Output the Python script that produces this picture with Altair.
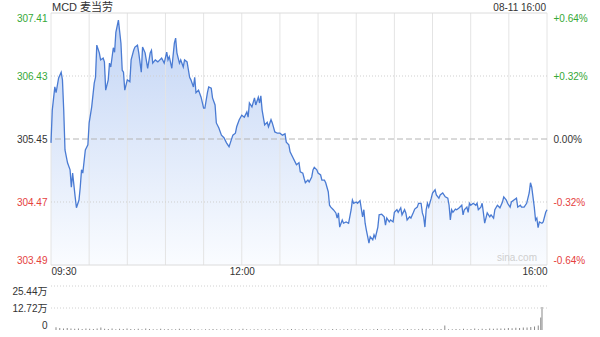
import altair as alt
import pandas as pd

# ---------------- data ----------------
prev_close = 305.45
minutes = [0, 1, 3, 4, 6, 8, 9, 10, 11, 13,
           15, 16, 17, 19, 20, 22, 23, 24, 25, 27,
           29, 30, 32, 34, 35, 36, 38, 39, 41, 42,
           43, 45, 46, 47, 49, 50, 51, 53, 55, 56,
           57, 58, 60, 62, 63, 65, 66, 68, 69, 71,
           72, 74, 76, 78, 79, 80, 82, 84, 87, 89,
           91, 92, 93, 95, 97, 98, 99, 101, 102, 104,
           105, 107, 109, 110, 112, 113, 114, 116, 118, 120,
           121, 123, 124, 126, 127, 129, 130, 132, 134, 136,
           138, 140, 141, 143, 145, 146, 148, 150, 152, 154,
           155, 156, 158, 160, 161, 163, 164, 165, 166, 168,
           170, 171, 173, 174, 176, 178, 180, 182, 184, 185,
           187, 188, 190, 192, 193, 195, 196, 198, 199, 200,
           202, 203, 205, 206, 207, 209, 210, 212, 213, 215,
           216, 218, 219, 220, 222, 224, 225, 226, 227, 229,
           230, 232, 234, 236, 237, 238, 240, 241, 243, 245,
           246, 247, 248, 249, 250, 251, 253, 254, 255, 257,
           258, 260, 262, 263, 264, 266, 267, 269, 270, 272,
           273, 275, 276, 278, 279, 280, 282, 283, 285, 286,
           288, 289, 291, 292, 293, 294, 295, 296, 297, 299,
           300, 302, 303, 305, 306, 308, 310, 312, 313, 314,
           315, 316, 318, 319, 321, 323, 324, 325, 327, 328,
           329, 330, 332, 334, 335, 336, 338, 339, 340, 341,
           343, 345, 346, 348, 349, 351, 353, 355, 356, 358,
           359, 361, 362, 364, 366, 367, 369, 370, 372, 374,
           376, 377, 378, 380, 381, 382, 383, 384, 386, 387,
           389, 390]
prices = [305.39, 305.90, 306.26, 306.17, 306.40, 306.49, 306.37, 305.90, 305.28, 305.08,
          304.97, 304.70, 304.92, 304.55, 304.38, 304.50, 304.70, 304.97, 304.92, 305.28,
          305.36, 305.70, 305.95, 306.32, 306.41, 306.91, 306.79, 306.68, 306.71, 306.65,
          306.21, 306.37, 306.63, 306.57, 306.87, 306.80, 307.11, 307.30, 306.94, 306.52,
          306.49, 306.21, 306.37, 306.34, 306.68, 306.83, 306.88, 306.91, 306.79, 306.49,
          306.88, 306.79, 306.55, 306.79, 306.83, 306.63, 306.68, 306.65, 306.71, 306.63,
          306.80, 306.68, 306.73, 306.55, 306.94, 307.02, 306.79, 306.63, 306.68, 306.57,
          306.68, 306.65, 306.41, 306.37, 306.26, 306.41, 306.17, 306.21, 306.10, 305.93,
          305.93, 306.17, 306.26, 306.24, 306.09, 305.98, 305.70, 305.62, 305.51, 305.47,
          305.39, 305.33, 305.39, 305.51, 305.54, 305.64, 305.75, 305.82, 305.79, 305.87,
          305.79, 306.01, 305.95, 306.09, 305.98, 306.10, 306.01, 306.12, 305.90, 305.67,
          305.71, 305.64, 305.75, 305.70, 305.56, 305.54, 305.54, 305.51, 305.53, 305.40,
          305.36, 305.25, 305.17, 305.09, 305.05, 305.08, 304.94, 304.92, 304.84, 304.77,
          304.81, 304.78, 304.86, 304.97, 305.01, 304.97, 304.92, 304.89, 304.81, 304.81,
          304.77, 304.63, 304.42, 304.39, 304.35, 304.30, 304.22, 304.30, 304.08, 304.19,
          304.14, 304.16, 304.14, 304.35, 304.50, 304.45, 304.47, 304.45, 304.49, 304.24,
          304.35, 304.14, 304.03, 303.93, 303.83, 303.93, 303.88, 303.96, 303.91, 304.08,
          304.27, 304.28, 304.24, 304.11, 304.22, 304.16, 304.19, 304.16, 304.31, 304.35,
          304.31, 304.38, 304.27, 304.35, 304.30, 304.19, 304.24, 304.22, 304.31, 304.36,
          304.39, 304.45, 304.45, 304.30, 304.24, 304.08, 304.35, 304.45, 304.39, 304.53,
          304.61, 304.66, 304.58, 304.53, 304.58, 304.61, 304.55, 304.53, 304.42, 304.19,
          304.35, 304.31, 304.36, 304.35, 304.38, 304.42, 304.27, 304.35, 304.39, 304.31,
          304.45, 304.42, 304.45, 304.42, 304.45, 304.35, 304.39, 304.45, 304.30, 304.14,
          304.30, 304.24, 304.27, 304.22, 304.35, 304.42, 304.38, 304.47, 304.55, 304.50,
          304.45, 304.39, 304.47, 304.50, 304.53, 304.39, 304.42, 304.39, 304.39, 304.45,
          304.61, 304.77, 304.70, 304.39, 304.19, 304.22, 304.07, 304.16, 304.14, 304.16,
          304.31, 304.35]

price_ticks = [303.49, 304.47, 305.45, 306.43, 307.41]
price_floor = 303.49
pct_ticks = [0.64, 0.32, 0.0, -0.32, -0.64]
pct_kinds = ["edge", "dot", "mid", "dot", "edge"]
time_ticks = [0, 150, 390]
half_hours = list(range(0, 391, 30))

vol_minutes = list(range(0, 388, 3)) + [389, 390]
volumes = [16000, 12000, 9000, 11000, 8000, 7000, 9000, 6000, 8000, 7000,
           6000, 9000, 15000, 7000, 6000, 8000, 5000, 7000, 6000, 9000,
           6000, 5000, 7000, 5000, 8000, 6000, 5000, 4000, 7000, 5000,
           6000, 4000, 5000, 7000, 4000, 5000, 6000, 4000, 5000, 3000,
           5000, 4000, 6000, 4000, 3000, 5000, 4000, 6000, 3000, 4000,
           7000, 4000, 3000, 5000, 4000, 3000, 4000, 5000, 3000, 4000,
           5000, 3000, 4000, 6000, 4000, 3000, 5000, 4000, 3000, 4000,
           3000, 5000, 4000, 3000, 6000, 4000, 3000, 4000, 5000, 3000,
           4000, 3000, 5000, 4000, 3000, 4000, 6000, 3000, 4000, 5000,
           4000, 3000, 5000, 4000, 6000, 5000, 4000, 5000, 7000, 5000,
           6000, 5000, 4000, 6000, 26000, 5000, 4000, 6000, 5000, 7000,
           5000, 6000, 8000, 5000, 7000, 6000, 8000, 7000, 9000, 8000,
           9000, 11000, 10000, 13000, 12000, 14000, 15000, 18000, 20000, 26000,
           72000, 133000]
vol_ticks = [0, 127200, 254400]
vol_grid = [127200, 254400]

# ---------------- styling ----------------
GREEN = "#35a836"
RED = "#e5413d"
GRAY = "#333333"
FONT = "Helvetica Neue, Helvetica, Arial, Liberation Sans, Noto Sans CJK SC, sans-serif"

xscale = alt.Scale(domain=[0, 390], nice=False, zero=False)
yprice = alt.Scale(domain=[303.49, 307.41], nice=False, zero=False)
ypct = alt.Scale(domain=[-0.64, 0.64], nice=False, zero=False)
yvol = alt.Scale(domain=[0, 254400], nice=False, zero=True)

price_df = pd.DataFrame({"m": minutes, "price": prices})
hdf = pd.DataFrame({"pct": pct_ticks, "kind": pct_kinds})

x_axis = alt.Axis(orient="bottom", values=time_ticks,
                  labelExpr="datum.value < 1 ? '09:30' : (datum.value < 200 ? '12:00' : '16:00')",
                  labelFlush=True, ticks=False, domain=False, grid=False,
                  labelPadding=1, labelFontSize=10, labelColor=GRAY, title=None)
X = alt.X("m:Q", scale=xscale, axis=x_axis)

left_axis = alt.Axis(orient="left", values=price_ticks, format=".2f", labelFlush=True,
                     ticks=False, domain=False, grid=False, labelPadding=4,
                     labelFontSize=10, title=None, minExtent=51, maxExtent=51,
                     labelColor={"condition": [
                         {"test": "datum.value > 305.46", "value": GREEN},
                         {"test": "datum.value < 305.44", "value": RED}],
                         "value": GRAY})

right_axis = alt.Axis(orient="right", values=pct_ticks,
                      labelExpr="datum.value > 0.001 ? '+' + format(datum.value, '.2f') + '%' : "
                                "(datum.value < -0.001 ? '-' + format(abs(datum.value), '.2f') + '%' : '0.00%')",
                      labelFlush=True, ticks=False, domain=False, grid=False, labelPadding=6,
                      labelFontSize=10, title=None, minExtent=53, maxExtent=53,
                      labelColor={"condition": [
                          {"test": "datum.value > 0.001", "value": GREEN},
                          {"test": "datum.value < -0.001", "value": RED}],
                          "value": GRAY})

area = alt.Chart(price_df).mark_area(
    clip=True,
    color=alt.Gradient(gradient="linear",
                       stops=[alt.GradientStop(color="#c3d5f5", offset=0),
                              alt.GradientStop(color="#fafcff", offset=1)],
                       x1=1, x2=1, y1=0, y2=1)
).encode(x=X,
         y=alt.Y("price:Q", scale=yprice, axis=left_axis),
         y2=alt.datum(price_floor))

vgrid = alt.Chart(pd.DataFrame({"m": half_hours})).mark_rule(
    color="#e4e4e4", strokeWidth=1
).encode(x=X)

hedge = alt.Chart(hdf).transform_filter("datum.kind == 'edge'").mark_rule(
    color="#dcdcdc", strokeWidth=1
).encode(y=alt.Y("pct:Q", scale=ypct, axis=right_axis))

hdot = alt.Chart(hdf).transform_filter("datum.kind == 'dot'").mark_rule(
    color="#cfcfcf", strokeWidth=1, strokeDash=[1, 2]
).encode(y=alt.Y("pct:Q", scale=ypct, axis=None))

hmid = alt.Chart(hdf).transform_filter("datum.kind == 'mid'").mark_rule(
    color="#b4b4b4", strokeWidth=1, strokeDash=[6, 3]
).encode(y=alt.Y("pct:Q", scale=ypct, axis=None))

line = alt.Chart(price_df).mark_line(color="#4a7bd3", strokeWidth=1.3).encode(
    x=X,
    y=alt.Y("price:Q", scale=yprice, axis=None))

txt_df = pd.DataFrame({"name": ["MCD 麦当劳"], "stamp": ["08-11 16:00"], "mark": ["sina.com"]})
title_txt = alt.Chart(txt_df).mark_text(align="left", baseline="middle", fontSize=11, color=GRAY).encode(
    x=alt.value(1), y=alt.value(-5), text="name:N")
stamp_txt = alt.Chart(txt_df).mark_text(align="right", baseline="middle", fontSize=10, color=GRAY).encode(
    x=alt.value(495), y=alt.value(-5), text="stamp:N")
water_txt = alt.Chart(txt_df).mark_text(align="right", baseline="middle", fontSize=10, color="#cfcfcf").encode(
    x=alt.value(486), y=alt.value(245), text="mark:N")

price_chart = alt.layer(area, vgrid, hedge, hdot, hmid, line, title_txt, stamp_txt, water_txt).resolve_scale(
    y="independent").properties(width=496, height=252)

vol_df = pd.DataFrame({"m": vol_minutes, "vol": volumes})
vol_axis = alt.Axis(orient="left", values=vol_ticks,
                    labelExpr="datum.value < 1 ? '0' : format(datum.value / 10000, '.2f') + '万'",
                    labelFlush=True, ticks=False, domain=False, grid=False, labelPadding=4,
                    labelFontSize=10, labelColor=GRAY, title=None, minExtent=51, maxExtent=51)
YV = alt.Y("v:Q", scale=yvol, axis=vol_axis)
vgrid2 = alt.Chart(pd.DataFrame({"v": vol_grid})).mark_rule(
    color="#d0d0d0", strokeWidth=1, strokeDash=[1, 2]
).encode(y=YV)
bars = alt.Chart(vol_df).mark_bar(size=1, color="#8a8a8a").encode(
    x=alt.X("m:Q", scale=xscale, axis=None),
    y=alt.Y("vol:Q", scale=yvol, axis=vol_axis))
vol_chart = alt.layer(vgrid2, bars).properties(width=496, height=44)

chart = alt.vconcat(price_chart, vol_chart, spacing=21, bounds="flush").properties(
    padding={"left": 0, "top": 2, "right": 0, "bottom": 0},
    background="white"
).configure(font=FONT).configure_view(stroke=None)

chart.save("out.html", embed_options={"renderer": "svg", "actions": False})
